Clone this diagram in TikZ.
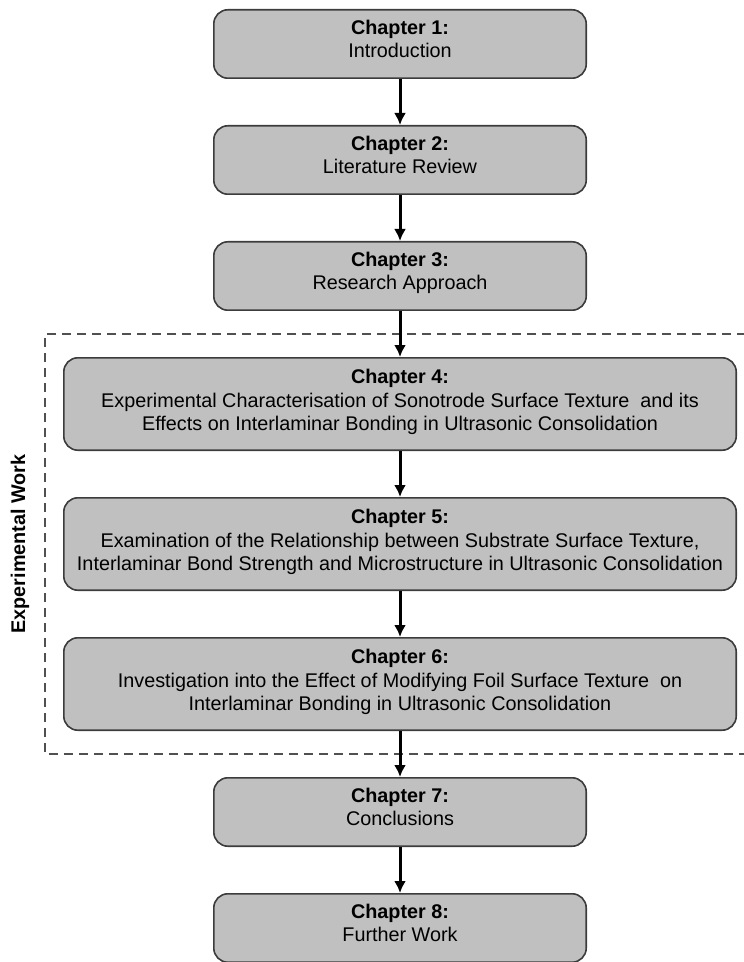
\documentclass[tikz,border=0pt]{standalone}
\usepackage{fontspec}
\setmainfont{Liberation Sans}
\usetikzlibrary{positioning,arrows.meta}

\definecolor{boxgrey}{RGB}{192,192,192}
\definecolor{edgegrey}{RGB}{60,60,60}
\definecolor{dashgrey}{RGB}{80,80,80}

\tikzset{
    chapbox/.style={draw=edgegrey, fill=boxgrey, line width=0.8pt, rounded corners=7pt,
        align=center, minimum width=186.2pt, minimum height=34.2pt, inner sep=2pt,
        text depth=5pt, font=\fontsize{9.9pt}{11.8pt}\selectfont},
    bigchap/.style={chapbox, minimum width=336.2pt, minimum height=46.2pt, text depth=4pt},
    chapflow/.style={->, >={Latex[length=6pt,width=6pt]}, line width=1.5pt},
    expframe/.style={draw=dashgrey, line width=0.75pt, dash pattern=on 4.5pt off 3pt},
}

\begin{document}
\begin{tikzpicture}[node distance=23pt]

    \useasboundingbox (0,0) rectangle (371.5pt,-481pt);

    \node[chapbox, anchor=north] (ch1) at (200pt,-4.5pt) {\textbf{Chapter 1:}\\Introduction};
    \node[chapbox, below=of ch1] (ch2) {\textbf{Chapter 2:}\\Literature Review};
    \node[chapbox, below=of ch2] (ch3) {\textbf{Chapter 3:}\\Research Approach};
    \node[bigchap, below=of ch3] (ch4) {\textbf{Chapter 4:}\\Experimental Characterisation of Sonotrode Surface Texture\ \ and its\\Effects on Interlaminar Bonding in Ultrasonic Consolidation};
    \node[bigchap, below=of ch4] (ch5) {\textbf{Chapter 5:}\\Examination of the Relationship between Substrate Surface Texture,\\Interlaminar Bond Strength and Microstructure in Ultrasonic Consolidation};
    \node[bigchap, below=of ch5] (ch6) {\textbf{Chapter 6:}\\Investigation into the Effect of Modifying Foil Surface Texture\ \ on\\Interlaminar Bonding in Ultrasonic Consolidation};
    \node[chapbox, below=of ch6] (ch7) {\textbf{Chapter 7:}\\Conclusions};
    \node[chapbox, below=of ch7] (ch8) {\textbf{Chapter 8:}\\Further Work};

    % experimental work frame
    \coordinate (frametop) at ([yshift=-11.5pt]ch3.south);
    \coordinate (framebot) at ([yshift=11.5pt]ch7.north);
    \coordinate (ftl) at (frametop -| ch4.west);
    \coordinate (fbl) at (framebot -| ch4.west);
    \coordinate (ftr) at (frametop -| ch4.east);
    \coordinate (fbr) at (framebot -| ch4.east);
    \draw[expframe] ([xshift=12pt]ftr) -- ([xshift=-9pt]ftl) -- ([xshift=-9pt]fbl) -- ([xshift=12pt]fbr);

    \node[rotate=90, font=\fontsize{9.9pt}{11.8pt}\selectfont\bfseries] (explabel)
        at ([xshift=-21.5pt]ch5.west) {Experimental Work};

    \draw[chapflow] (ch1) -- (ch2);
    \draw[chapflow] (ch2) -- (ch3);
    \draw[chapflow] (ch3) -- (ch4);
    \draw[chapflow] (ch4) -- (ch5);
    \draw[chapflow] (ch5) -- (ch6);
    \draw[chapflow] (ch6) -- (ch7);
    \draw[chapflow] (ch7) -- (ch8);

\end{tikzpicture}
\end{document}
